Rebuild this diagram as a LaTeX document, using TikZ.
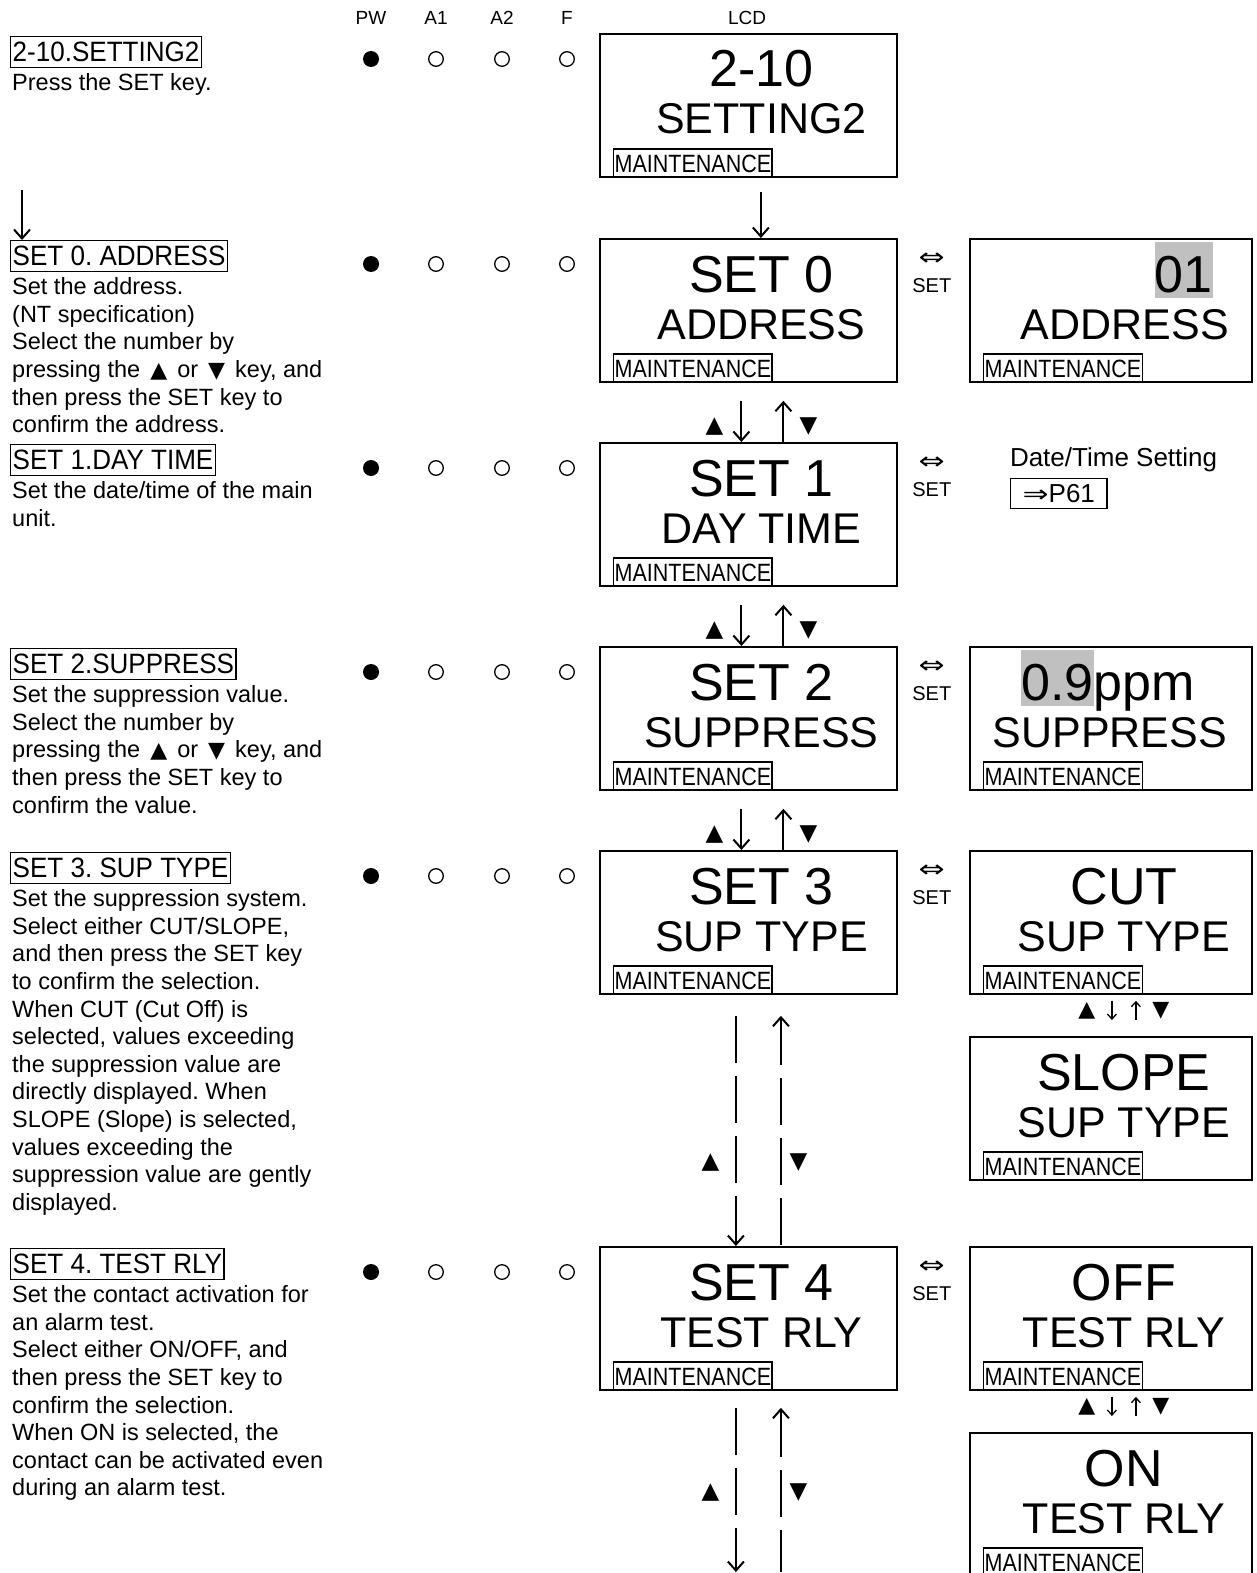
\documentclass[tikz,border=0pt]{standalone}
\usepackage{fontspec}
\setmainfont{Liberation Sans}
\newfontfamily\symfont{DejaVu Sans}
\newfontfamily\widesym[FakeStretch=1.3]{DejaVu Sans}
\newfontfamily\narrowfont[FakeStretch=0.86]{Liberation Sans}
\newfontfamily\titlefont[FakeStretch=0.93]{Liberation Sans}
\usetikzlibrary{arrows.meta, positioning, calc}
\definecolor{lcdgray}{HTML}{C0C0C0}
\frenchspacing

% key triangles inside running text
\newcommand{\keyup}{\makebox[24pt]{\symfont\fontsize{22}{22}\selectfont ▲}}
\newcommand{\keydn}{\makebox[24pt]{\symfont\fontsize{22}{22}\selectfont ▼}}

% second LCD line and the MAINTENANCE tag of a box
\newcommand{\lcdtwo}[3]{%
  \node[linetwo] (#1-b) at ([xshift=#2pt, yshift=-101pt]#1.north) {#3};
  \node[mtag] (#1-t) at ([xshift=14pt]#1.south west) {MAINTENANCE};}

\begin{document}
\begin{tikzpicture}[x=1pt, y=-1pt,
    font=\fontsize{23.5}{27.6}\selectfont,
    lcd/.style={draw, line width=1.8pt, minimum width=297pt, minimum height=143pt, inner sep=0pt, anchor=north west},
    lcdr/.style={lcd, minimum width=282pt},
    lineone/.style={anchor=base, inner sep=0pt, font=\fontsize{52}{52}\selectfont},
    linetwo/.style={anchor=base, inner sep=0pt, font=\fontsize{43}{43}\selectfont},
    mtag/.style={draw, line width=1.4pt, anchor=south west, inner xsep=1pt, inner ysep=0pt,
      text height=23pt, text depth=5pt, font=\narrowfont\fontsize{25}{25}\selectfont},
    hl/.style={lineone, fill=lcdgray, text height=50pt, text depth=6pt},
    ttl/.style={draw, line width=1.4pt, anchor=north west, inner xsep=2pt, inner ysep=0pt,
      text height=25pt, text depth=6pt, font=\titlefont\fontsize{28}{28}\selectfont},
    desc/.style={anchor=north west, align=left, inner xsep=2pt, inner ysep=0pt},
    hdr/.style={font=\fontsize{19}{19}\selectfont, inner sep=0pt},
    swap/.style={font=\widesym\fontsize{24}{24}\selectfont, inner sep=0pt},
    setlbl/.style={font=\fontsize{20}{20}\selectfont, inner sep=0pt},
    key/.style={font=\symfont\fontsize{23}{23}\selectfont, inner sep=0pt},
    keys/.style={font=\symfont\fontsize{22}{22}\selectfont, inner sep=0pt},
    arr/.style={-{Straight Barb[length=9pt, width=16pt]}, line width=2pt},
    rarr/.style={{Straight Barb[length=9pt, width=16pt]}-, line width=2pt},
    sarr/.style={-{Straight Barb[length=5pt, width=9pt]}, line width=1.3pt},
    rsarr/.style={{Straight Barb[length=5pt, width=9pt]}-, line width=1.3pt},
    dashlong/.style={dash pattern=on 47pt off 13pt}
  ]
  \useasboundingbox (0,0) rectangle (1256,1573);

  % header
  \node[hdr] (pw) at (371,18) {PW};
  \node[hdr] (a1) at (436,18) {A1};
  \node[hdr] (a2) at (502,18) {A2};
  \node[hdr] (f) at (567,18) {F};
  \node[hdr] (lcd) at (747,18) {LCD};

  % main LCD column with the lamps
  \foreach \n/\ytop/\la/\lb in {m0/33/2-10/SETTING2, m1/238/SET 0/ADDRESS, m2/442/SET 1/DAY TIME,
      m3/646/SET 2/SUPPRESS, m4/850/SET 3/SUP TYPE, m5/1246/SET 4/TEST RLY} {
    \node[lcd] (\n) at (599,\ytop) {};
    \node[lineone] (\n-a) at ([xshift=13pt, yshift=-54pt]\n.north) {\la};
    \lcdtwo{\n}{13}{\lb}
    \fill (371,\ytop+26) circle (8pt);
    \foreach \x in {436,502,567} \draw[line width=1.3pt] (\x,\ytop+26) circle (7.3pt);
  }

  % right LCD column
  \foreach \n/\ytop/\xo/\lb in {r1/238/14/ADDRESS, r3/646/-1/SUPPRESS, r4/850/13/SUP TYPE,
      r4b/1036/13/SUP TYPE, r5/1246/13/TEST RLY, r5b/1432/13/TEST RLY} {
    \node[lcdr] (\n) at (969,\ytop) {};
    \lcdtwo{\n}{\xo}{\lb}
  }
  \node[hl, anchor=base east] (r1-a) at ([xshift=-40pt, yshift=-54pt]r1.north east) {01};
  \node[hl, anchor=base west] (r3-h) at ([xshift=52pt, yshift=-54pt]r3.north west) {0.9};
  \node[lineone, anchor=base west] (r3-a) at (r3-h.base east) {ppm};
  \foreach \n/\la in {r4/CUT, r4b/SLOPE, r5/OFF, r5b/ON}
    \node[lineone] (\n-a) at ([xshift=13pt, yshift=-54pt]\n.north) {\la};

  \node[anchor=base west, inner sep=0pt, font=\fontsize{26}{26}\selectfont] (dt)
    at ([xshift=112pt, yshift=-24pt]m2.north east) {Date/Time Setting};
  \node[draw, line width=1.4pt, below=6pt of dt.south west, anchor=north west, inner xsep=12pt,
    inner ysep=6pt, font=\fontsize{26}{26}\selectfont] (p61) {{\widesym\fontsize{24}{24}\selectfont ⇒}P61};

  % SET key swaps
  \foreach \n in {m1,m2,m3,m4,m5} {
    \node[swap] (\n-x) at ([xshift=34pt, yshift=-21pt]\n.north east) {⇔};
    \node[setlbl] (\n-s) at ([xshift=34pt, yshift=-48pt]\n.north east) {SET};
  }

  % main column arrows
  \draw[arr, shorten <=14pt] ([xshift=12.5pt]m0.south) -- ([xshift=12.5pt]m1.north);
  \foreach \a/\b in {m1/m2, m2/m3, m3/m4} {
    \draw[arr, shorten <=18pt] ([xshift=-7pt]\a.south) -- ([xshift=-7pt]\b.north);
    \draw[rarr, shorten <=18pt] ([xshift=35pt]\a.south) -- ([xshift=35pt]\b.north);
    \node[key] (\a-up) at ([xshift=-34pt, yshift=-44pt]\a.south) {▲};
    \node[key] (\a-dn) at ([xshift=60pt, yshift=-44pt]\a.south) {▼};
  }
  \draw[arr, dashlong, shorten <=21pt] ([xshift=-12.5pt]m4.south) -- ([xshift=-12.5pt]m5.north);
  \draw[rarr, dashlong, shorten <=21pt] ([xshift=32.5pt]m4.south) -- ([xshift=32.5pt]m5.north);
  \node[key] (m4-up) at ([xshift=-38pt, yshift=-168pt]m4.south) {▲};
  \node[key] (m4-dn) at ([xshift=50pt, yshift=-168pt]m4.south) {▼};

  \coordinate (bottom) at (0,1572);
  \draw[arr, dashlong, shorten <=17pt] ([xshift=-12.5pt]m5.south) -- ([xshift=-12.5pt]m5.south |- bottom);
  \draw[rarr, dashlong, shorten <=17pt] ([xshift=32.5pt]m5.south) -- ([xshift=32.5pt]m5.south |- bottom);
  \node[key] (m5-up) at ([xshift=-38pt, yshift=-102pt]m5.south) {▲};
  \node[key] (m5-dn) at ([xshift=50pt, yshift=-102pt]m5.south) {▼};

  % right column arrows
  \foreach \a/\b in {r4/r4b, r5/r5b} {
    \draw[sarr, shorten <=6pt, shorten >=16pt] ([xshift=1pt]\a.south) -- ([xshift=1pt]\b.north);
    \draw[rsarr, shorten <=6pt, shorten >=16pt] ([xshift=25pt]\a.south) -- ([xshift=25pt]\b.north);
    \node[keys] (\a-up) at ([xshift=-24pt, yshift=-16pt]\a.south) {▲};
    \node[keys] (\a-dn) at ([xshift=50pt, yshift=-16pt]\a.south) {▼};
  }

  % left column texts
  \node[ttl] (t0) at (10,36) {2-10.SETTING2};
  \node[desc, below=5pt of t0.south west, anchor=north west] (d0) {Press the SET key.};
  \node[ttl] (t1) at (10,240) {SET 0. ADDRESS};
  \node[desc, below=5pt of t1.south west, anchor=north west] (d1) {Set the address.\\(NT specification)\\Select the number by\\pressing the \keyup{} or \keydn{} key, and\\then press the SET key to\\confirm the address.};
  \node[ttl] (t2) at (10,444) {SET 1.DAY TIME};
  \node[desc, below=5pt of t2.south west, anchor=north west] (d2) {Set the date/time of the main\\unit.};
  \node[ttl] (t3) at (10,648) {SET 2.SUPPRESS};
  \node[desc, below=5pt of t3.south west, anchor=north west] (d3) {Set the suppression value.\\Select the number by\\pressing the \keyup{} or \keydn{} key, and\\then press the SET key to\\confirm the value.};
  \node[ttl] (t4) at (10,852) {SET 3. SUP TYPE};
  \node[desc, below=5pt of t4.south west, anchor=north west] (d4) {Set the suppression system.\\Select either CUT/SLOPE,\\and then press the SET key\\to confirm the selection.\\When CUT (Cut Off) is\\selected, values exceeding\\the suppression value are\\directly displayed. When\\SLOPE (Slope) is selected,\\values exceeding the\\suppression value are gently\\displayed.};
  \node[ttl] (t5) at (10,1248) {SET 4. TEST RLY};
  \node[desc, below=5pt of t5.south west, anchor=north west] (d5) {Set the contact activation for\\an alarm test.\\Select either ON/OFF, and\\then press the SET key to\\confirm the selection.\\When ON is selected, the\\contact can be activated even\\during an alarm test.};

  \coordinate (lfrom) at (22,190);
  \draw[arr] (lfrom) -- (lfrom |- t1.north);
\end{tikzpicture}
\end{document}
